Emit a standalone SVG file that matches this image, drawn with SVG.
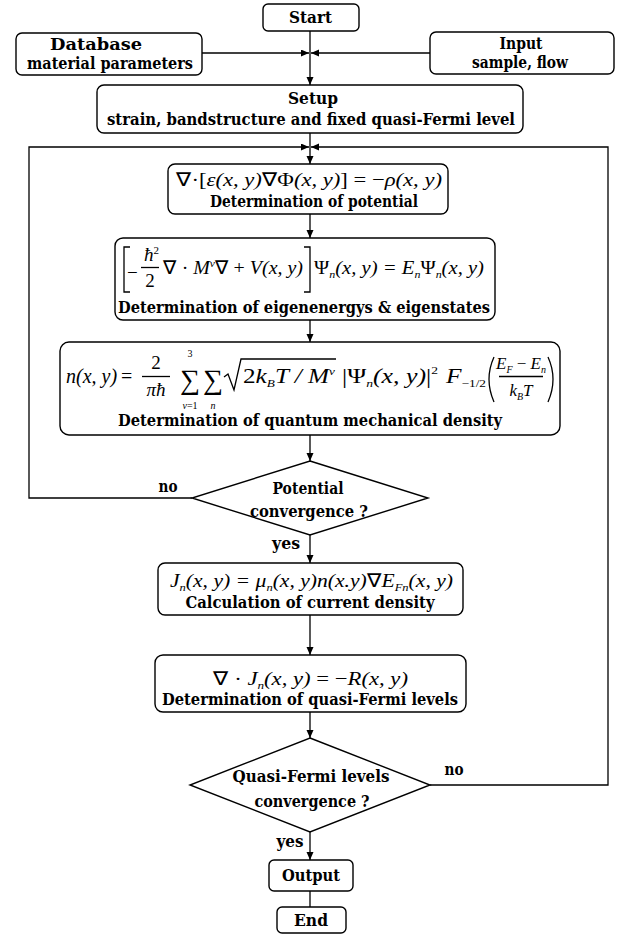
<svg xmlns="http://www.w3.org/2000/svg" width="621" height="935" viewBox="0 0 621 935">
<style>
.box{fill:#fff;stroke:#000;stroke-width:1.4}
.ln{fill:none;stroke:#000;stroke-width:1.3}
.lbl{font-family:"DejaVu Serif","Liberation Serif",serif;font-weight:bold;font-size:16.5px;text-anchor:middle;fill:#000}
.eq{font-family:"Liberation Serif","Times New Roman",serif;font-size:19px;font-style:italic;fill:#000}
.eqb{font-size:21px}
.eqs{font-size:17px}
.up{font-style:normal}
.sm{font-size:11px}
.xs{font-size:10px}
.mid{text-anchor:middle}
.big{font-size:28px;font-style:normal}
</style>
<defs>
<marker id="ah" markerUnits="userSpaceOnUse" markerWidth="8" markerHeight="8" refX="8" refY="3.5" orient="auto"><path d="M0,0 L8,3.5 L0,7 z" fill="#000"/></marker>
</defs>
<g id="connectors">
<path class="ln" d="M310,31 V85" marker-end="url(#ah)"/>
<path class="ln" d="M202,53 H309" marker-end="url(#ah)"/>
<path class="ln" d="M430,53 H311" marker-end="url(#ah)"/>
<path class="ln" d="M310,133 V164" marker-end="url(#ah)"/>
<path class="ln" d="M192,498 H29 V147 H309" marker-end="url(#ah)"/>
<path class="ln" d="M430,785 H608 V147 H311" marker-end="url(#ah)"/>
<path class="ln" d="M310,214 V238" marker-end="url(#ah)"/>
<path class="ln" d="M310,320 V342" marker-end="url(#ah)"/>
<path class="ln" d="M310,435 V461" marker-end="url(#ah)"/>
<path class="ln" d="M310,535 V563" marker-end="url(#ah)"/>
<path class="ln" d="M310,615 V655" marker-end="url(#ah)"/>
<path class="ln" d="M310,712 V738" marker-end="url(#ah)"/>
<path class="ln" d="M310,832 V860" marker-end="url(#ah)"/>
<path class="ln" d="M310,891 V907"/>
<text class="lbl" x="168" y="492" textLength="19" lengthAdjust="spacingAndGlyphs">no</text>
<text class="lbl" x="286" y="549" textLength="28" lengthAdjust="spacingAndGlyphs">yes</text>
<text class="lbl" x="454" y="775" textLength="19" lengthAdjust="spacingAndGlyphs">no</text>
<text class="lbl" x="290" y="847" textLength="27" lengthAdjust="spacingAndGlyphs">yes</text>
</g>
<g id="start">
<rect class="box" x="263" y="4" width="96" height="27" rx="5"/>
<text class="lbl" x="310.5" y="23" textLength="43" lengthAdjust="spacingAndGlyphs">Start</text>
</g>
<g id="database">
<rect class="box" x="16" y="33" width="186" height="42" rx="6"/>
<text class="lbl" x="96" y="50" textLength="92" lengthAdjust="spacingAndGlyphs">Database</text>
<text class="lbl" x="110" y="69" textLength="166" lengthAdjust="spacingAndGlyphs">material parameters</text>
</g>
<g id="input">
<rect class="box" x="430" y="32" width="184" height="42" rx="6"/>
<text class="lbl" x="521" y="49" textLength="43" lengthAdjust="spacingAndGlyphs">Input</text>
<text class="lbl" x="520" y="68" textLength="96" lengthAdjust="spacingAndGlyphs">sample, flow</text>
</g>
<g id="setup">
<rect class="box" x="97" y="85" width="426" height="48" rx="7"/>
<text class="lbl" x="313" y="104" textLength="50" lengthAdjust="spacingAndGlyphs">Setup</text>
<text class="lbl" x="311" y="125" textLength="408" lengthAdjust="spacingAndGlyphs">strain, bandstructure and fixed quasi-Fermi level</text>
</g>
<g id="potential">
<rect class="box" x="168" y="164" width="280" height="50" rx="7"/>
<text class="eq" x="176" y="186" textLength="266" lengthAdjust="spacingAndGlyphs"><tspan class="up">∇·[</tspan>ε(x, y)<tspan class="up">∇Φ</tspan>(x, y)<tspan class="up">] = −</tspan>ρ(x, y)</text>
<text class="lbl" x="314" y="207" textLength="208" lengthAdjust="spacingAndGlyphs">Determination of potential</text>
</g>
<g id="eigen">
<rect class="box" x="115" y="238" width="380" height="82" rx="8"/>
<path class="ln" d="M130,247 H124 V292 H130 M304,247 H310 V292 H304"/>
<text class="eq up" x="127" y="279">−</text>
<text class="eq" x="144" y="261">ħ<tspan class="sm up" dy="-7">2</tspan></text>
<path class="ln" d="M141,267.5 H159"/>
<text class="eq up mid" x="150" y="287">2</text>
<text class="eq" x="163" y="274" textLength="140" lengthAdjust="spacingAndGlyphs"><tspan class="up">∇ · </tspan>M<tspan class="sm" dy="-7">ν</tspan><tspan class="up" dy="7">∇ + </tspan>V(x, y)</text>
<text class="eq" x="314" y="274" textLength="170" lengthAdjust="spacingAndGlyphs"><tspan class="up">Ψ</tspan><tspan class="sm" dy="4">n</tspan><tspan dy="-4">(x, y) = E</tspan><tspan class="sm" dy="4">n</tspan><tspan class="up" dy="-4">Ψ</tspan><tspan class="sm" dy="4">n</tspan><tspan dy="-4">(x, y)</tspan></text>
<text class="lbl" x="304" y="313" textLength="372" lengthAdjust="spacingAndGlyphs">Determination of eigenenergys &amp; eigenstates</text>
</g>
<g id="density">
<rect class="box" x="60" y="342" width="500" height="93" rx="9"/>
<text class="eq" x="66" y="383" style="font-size:20px">n(x, y)<tspan class="up" dx="4">=</tspan></text>
<text class="eq up mid" x="156" y="369">2</text>
<path class="ln" d="M142,376.5 H170"/>
<text class="eq mid" x="156" y="396">πħ</text>
<text class="eq big mid" x="190" y="389">∑</text>
<text class="eq up mid xs" x="190" y="357">3</text>
<text class="eq mid xs" x="190" y="409">ν<tspan class="up">=1</tspan></text>
<text class="eq big mid" x="213" y="389">∑</text>
<text class="eq mid xs" x="213" y="409">n</text>
<path class="ln" d="M224,377 L228,374 L234,390 L241,359 H336"/>
<text class="eq eqb" x="243" y="383" textLength="92" lengthAdjust="spacingAndGlyphs"><tspan class="up">2</tspan>k<tspan class="sm" dy="4">B</tspan><tspan dy="-4">T / M</tspan><tspan class="sm" dy="-8">ν</tspan></text>
<text class="eq eqb" x="342" y="383" textLength="96" lengthAdjust="spacingAndGlyphs"><tspan class="up">|Ψ</tspan><tspan class="sm" dy="4">n</tspan><tspan dy="-4">(x, y)</tspan><tspan class="up">|</tspan><tspan class="sm up" dy="-9">2</tspan></text>
<text class="eq eqb" x="446" y="383" textLength="40" lengthAdjust="spacingAndGlyphs">F<tspan class="sm up" dy="4">−1/2</tspan></text>
<path class="ln" d="M494,357 Q484,379 494,402 M548,357 Q558,379 548,402"/>
<text class="eq eqs mid" x="521" y="369">E<tspan class="xs" dy="4">F</tspan><tspan class="up" dy="-4"> − </tspan>E<tspan class="xs" dy="4">n</tspan></text>
<path class="ln" d="M499,376.5 H543"/>
<text class="eq eqs mid" x="521" y="396">k<tspan class="xs" dy="4">B</tspan><tspan dy="-4">T</tspan></text>
<text class="lbl" x="310" y="426" textLength="384" lengthAdjust="spacingAndGlyphs">Determination of quantum mechanical density</text>
</g>
<g id="potential-convergence">
<path class="box" d="M310,461 L428,498 L310,535 L192,498 Z"/>
<text class="lbl" x="308" y="494" textLength="71" lengthAdjust="spacingAndGlyphs">Potential</text>
<text class="lbl" x="309" y="517" textLength="118" lengthAdjust="spacingAndGlyphs">convergence ?</text>
</g>
<g id="current">
<rect class="box" x="158" y="563" width="305" height="52" rx="7"/>
<text class="eq" x="170" y="587" textLength="283" lengthAdjust="spacingAndGlyphs">J<tspan class="sm" dy="4">n</tspan><tspan dy="-4">(x, y) = μ</tspan><tspan class="sm" dy="4">n</tspan><tspan dy="-4">(x, y)n(x.y)</tspan><tspan class="up">∇</tspan>E<tspan class="sm" dy="4">Fn</tspan><tspan dy="-4">(x, y)</tspan></text>
<text class="lbl" x="310" y="608" textLength="249" lengthAdjust="spacingAndGlyphs">Calculation of current density</text>
</g>
<g id="quasi-fermi">
<rect class="box" x="155" y="655" width="311" height="57" rx="8"/>
<text class="eq" x="213" y="685" textLength="195" lengthAdjust="spacingAndGlyphs"><tspan class="up">∇ · </tspan>J<tspan class="sm" dy="4">n</tspan><tspan dy="-4">(x, y) </tspan><tspan class="up">= −</tspan>R(x, y)</text>
<text class="lbl" x="310" y="705" textLength="296" lengthAdjust="spacingAndGlyphs">Determination of quasi-Fermi levels</text>
</g>
<g id="qf-convergence">
<path class="box" d="M310,738 L430,785 L310,832 L190,785 Z"/>
<text class="lbl" x="311" y="782" textLength="157" lengthAdjust="spacingAndGlyphs">Quasi-Fermi levels</text>
<text class="lbl" x="312" y="807" textLength="115" lengthAdjust="spacingAndGlyphs">convergence ?</text>
</g>
<g id="output">
<rect class="box" x="269" y="860" width="84" height="31" rx="5"/>
<text class="lbl" x="311" y="881" textLength="58" lengthAdjust="spacingAndGlyphs">Output</text>
</g>
<g id="end">
<rect class="box" x="277" y="907" width="69" height="26" rx="5"/>
<text class="lbl" x="311" y="926" textLength="34" lengthAdjust="spacingAndGlyphs">End</text>
</g>
</svg>
